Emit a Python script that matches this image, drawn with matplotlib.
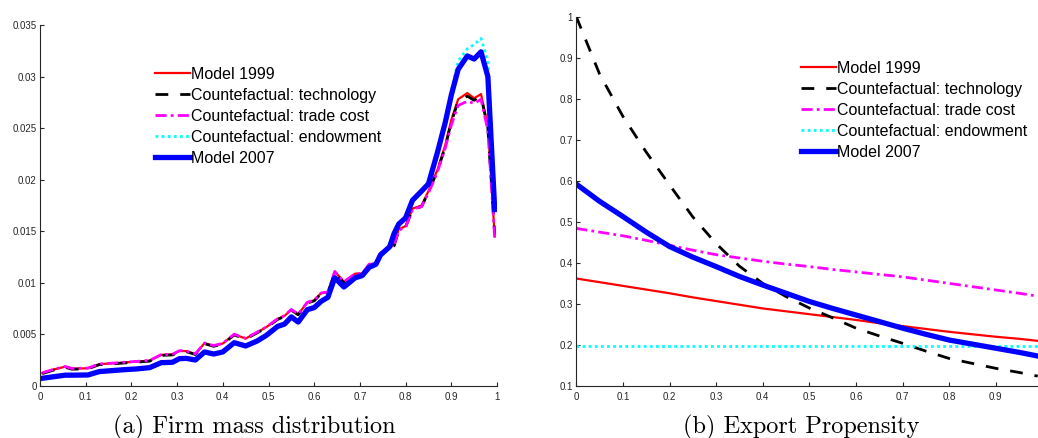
import matplotlib
matplotlib.use("Agg")
import matplotlib.pyplot as plt

# ---------------- data: (a) firm mass distribution ----------------
x_mass = [0.005, 0.03, 0.055, 0.07, 0.105, 0.13, 0.16, 0.19, 0.21, 0.24,
          0.265, 0.29, 0.305, 0.32, 0.34, 0.36, 0.38, 0.40, 0.425, 0.45,
          0.475, 0.495, 0.52, 0.535, 0.55, 0.565, 0.585, 0.60, 0.615, 0.63,
          0.645, 0.665, 0.69, 0.705, 0.72, 0.735, 0.745, 0.765, 0.775, 0.785,
          0.80, 0.815, 0.835, 0.85, 0.87, 0.887, 0.90, 0.915, 0.935, 0.95,
          0.965, 0.98, 0.995]
mass_1999 = [0.00125, 0.0016, 0.00187, 0.00168, 0.00172, 0.00212, 0.0022, 0.0023, 0.00236, 0.00246,
             0.00302, 0.00306, 0.0034, 0.00338, 0.0031, 0.00415, 0.0039, 0.00412, 0.005, 0.0046,
             0.0052, 0.0057, 0.0065, 0.0068, 0.0074, 0.00695, 0.0081, 0.0083, 0.009, 0.0091,
             0.0111, 0.0101, 0.0109, 0.0109, 0.0118, 0.0119, 0.0129, 0.0134, 0.0137, 0.0152,
             0.0155, 0.0172, 0.0175, 0.0189, 0.021, 0.0234, 0.0258, 0.0278, 0.0284, 0.0279,
             0.0283, 0.0252, 0.0145]
mass_tech = [0.0012, 0.00155, 0.00182, 0.00163, 0.00167, 0.00207, 0.00215, 0.00225, 0.00231, 0.00241,
             0.00297, 0.00301, 0.00335, 0.00333, 0.00305, 0.0041, 0.00385, 0.00407, 0.00495, 0.00455,
             0.00515, 0.00565, 0.00645, 0.00675, 0.00735, 0.0069, 0.00805, 0.00825, 0.00895, 0.00905,
             0.011, 0.0100, 0.0108, 0.0108, 0.0117, 0.0118, 0.0128, 0.0133, 0.0136, 0.0151,
             0.0154, 0.0171, 0.0174, 0.0188, 0.0209, 0.0232, 0.0256, 0.0276, 0.0281, 0.0277,
             0.0281, 0.0250, 0.0147]
mass_trade = [0.00128, 0.00162, 0.00189, 0.0017, 0.00174, 0.00214, 0.00222, 0.00232, 0.00238, 0.00248,
              0.00304, 0.00308, 0.00342, 0.0034, 0.00312, 0.00417, 0.00392, 0.00414, 0.00502, 0.00462,
              0.00522, 0.00572, 0.00652, 0.00682, 0.00742, 0.00697, 0.00812, 0.00832, 0.00902, 0.00912,
              0.0111, 0.0101, 0.0109, 0.0109, 0.0118, 0.0119, 0.0129, 0.0134, 0.0137, 0.0151,
              0.0154, 0.0171, 0.0174, 0.0187, 0.0208, 0.0231, 0.0253, 0.0272, 0.0276, 0.0274,
              0.0278, 0.0248, 0.0143]
mass_endow = [0.0007, 0.00085, 0.001, 0.001, 0.00102, 0.00135, 0.00145, 0.00155, 0.0016, 0.00173,
              0.00221, 0.00225, 0.0026, 0.00263, 0.00247, 0.00325, 0.00305, 0.00325, 0.00415, 0.00383,
              0.00431, 0.00485, 0.00573, 0.00595, 0.00665, 0.00615, 0.00735, 0.00755, 0.00815, 0.00855,
              0.0104, 0.0095, 0.0104, 0.0106, 0.0114, 0.0117, 0.0126, 0.0134, 0.0147, 0.0156,
              0.0162, 0.0179, 0.0188, 0.0195, 0.0226, 0.0257, 0.0286, 0.0315, 0.0327, 0.0331,
              0.0337, 0.0315, 0.0172]
mass_2007 = [0.00075, 0.0009, 0.00105, 0.00105, 0.00107, 0.0014, 0.0015, 0.0016, 0.00165, 0.00178,
             0.00226, 0.0023, 0.00265, 0.00268, 0.00252, 0.0033, 0.0031, 0.0033, 0.0042, 0.00388,
             0.00436, 0.0049, 0.00578, 0.006, 0.0067, 0.0062, 0.0074, 0.0076, 0.0082, 0.0086,
             0.0105, 0.0096, 0.0105, 0.0107, 0.0115, 0.0118, 0.0127, 0.0135, 0.0148, 0.0157,
             0.0163, 0.018, 0.0189, 0.0196, 0.0227, 0.0256, 0.0282, 0.0307, 0.032, 0.0317,
             0.0324, 0.030, 0.0171]

# ---------------- data: (b) export propensity ----------------
x_prop = [0.0, 0.05, 0.1, 0.15, 0.2, 0.25, 0.3, 0.35, 0.4, 0.45, 0.5,
          0.55, 0.6, 0.65, 0.7, 0.75, 0.8, 0.85, 0.9, 0.95, 0.99]
prop_1999 = [0.362, 0.353, 0.344, 0.335, 0.326, 0.316, 0.307, 0.298, 0.289, 0.282, 0.275,
             0.268, 0.261, 0.253, 0.246, 0.239, 0.232, 0.226, 0.220, 0.215, 0.210]
prop_tech = [1.0, 0.86, 0.757, 0.67, 0.59, 0.512, 0.447, 0.392, 0.35, 0.318, 0.29,
             0.266, 0.241, 0.222, 0.204, 0.185, 0.167, 0.155, 0.143, 0.133, 0.124]
prop_trade = [0.484, 0.475, 0.466, 0.455, 0.443, 0.431, 0.420, 0.412, 0.404, 0.397, 0.391,
              0.384, 0.378, 0.372, 0.366, 0.358, 0.350, 0.342, 0.334, 0.326, 0.319]
prop_endow = [0.197] * 21
prop_2007 = [0.592, 0.55, 0.513, 0.475, 0.44, 0.414, 0.391, 0.367, 0.346, 0.326, 0.306,
             0.289, 0.273, 0.257, 0.241, 0.226, 0.212, 0.202, 0.192, 0.182, 0.173]

labels = ["Model 1999", "Countefactual: technology", "Countefactual: trade cost",
          "Countefactual: endowment", "Model 2007"]

xt_a = [0, 0.1, 0.2, 0.3, 0.4, 0.5, 0.6, 0.7, 0.8, 0.9, 1.0]
xtl_a = ["0", "0.1", "0.2", "0.3", "0.4", "0.5", "0.6", "0.7", "0.8", "0.9", "1"]
yt_a = [0, 0.005, 0.01, 0.015, 0.02, 0.025, 0.03, 0.035]
ytl_a = ["0", "0.005", "0.01", "0.015", "0.02", "0.025", "0.03", "0.035"]
xt_b = [0, 0.1, 0.2, 0.3, 0.4, 0.5, 0.6, 0.7, 0.8, 0.9]
xtl_b = ["0", "0.1", "0.2", "0.3", "0.4", "0.5", "0.6", "0.7", "0.8", "0.9"]
yt_b = [0.1, 0.2, 0.3, 0.4, 0.5, 0.6, 0.7, 0.8, 0.9, 1.0]
ytl_b = ["0.1", "0.2", "0.3", "0.4", "0.5", "0.6", "0.7", "0.8", "0.9", "1"]

plt.rcParams['font.family'] = ['Liberation Sans', 'DejaVu Sans']

W, H = 1038, 438
fig = plt.figure(figsize=(W / 100, H / 100), dpi=100)

axc = '#262626'

def style(ax):
    for s in ['top', 'right']:
        ax.spines[s].set_visible(False)
    for s in ['left', 'bottom']:
        ax.spines[s].set_color(axc)
        ax.spines[s].set_linewidth(0.8)
    ax.tick_params(direction='in', length=3, width=0.8, colors=axc,
                   labelsize=7, labelcolor=axc)
    ax.tick_params(axis='x', pad=4.5)
    ax.tick_params(axis='y', pad=2.5)

def draw(ax, x, ys):
    styles = [
        dict(color='#ff0000', lw=1.6, ls='-'),
        dict(color='#000000', lw=2.0, ls=(0, (4.6, 4.3))),
        dict(color='#ff00ff', lw=2.0, ls=(0, (4, 1.5, 1, 1.5))),
        dict(color='#00ffff', lw=2.0, ls=(0, (1, 1.2))),
        dict(color='#0000ff', lw=3.8, ls='-'),
    ]
    hs = []
    for y, st, lab in zip(ys, styles, labels):
        h, = ax.plot(x, y, label=lab, solid_joinstyle='round', **st)
        hs.append(h)
    return hs

# (a)
ax1 = fig.add_axes([40 / W, (H - 386) / H, 457 / W, 361 / H])
hs = draw(ax1, x_mass, [mass_1999, mass_tech, mass_trade, mass_endow, mass_2007])
ax1.set_xlim(0, 1)
ax1.set_ylim(0, 0.035)
ax1.set_xticks(xt_a)
ax1.set_xticklabels(xtl_a)
ax1.set_yticks(yt_a)
ax1.set_yticklabels(ytl_a)
style(ax1)
ax1.legend(handles=hs, loc='upper left', bbox_to_anchor=(155 / W, (H - 67) / H),
           bbox_transform=fig.transFigure, frameon=False, fontsize=11.5,
           handlelength=2.2, handletextpad=0.05, labelspacing=0.37, borderpad=0,
           borderaxespad=0)

# (b)
ax2 = fig.add_axes([576.3 / W, (H - 386) / H, 461.5 / W, 369.3 / H])
hs2 = draw(ax2, x_prop, [prop_1999, prop_tech, prop_trade, prop_endow, prop_2007])
ax2.set_xlim(0, 0.99)
ax2.set_ylim(0.1, 1.0)
ax2.set_xticks(xt_b)
ax2.set_xticklabels(xtl_b)
ax2.set_yticks(yt_b)
ax2.set_yticklabels(ytl_b)
style(ax2)
ax2.legend(handles=hs2, loc='upper left', bbox_to_anchor=(801 / W, (H - 61) / H),
           bbox_transform=fig.transFigure, frameon=False, fontsize=11.5,
           handlelength=2.2, handletextpad=0.05, labelspacing=0.37, borderpad=0,
           borderaxespad=0)

fig.text(254 / W, 5 / H, "(a) Firm mass distribution", family='cmr10',
         fontsize=17.5, ha='center', va='baseline', color='black')
fig.text(801 / W, 5 / H, "(b) Export Propensity", family='cmr10',
         fontsize=17.5, ha='center', va='baseline', color='black')

fig.savefig("out.png", dpi=100)
